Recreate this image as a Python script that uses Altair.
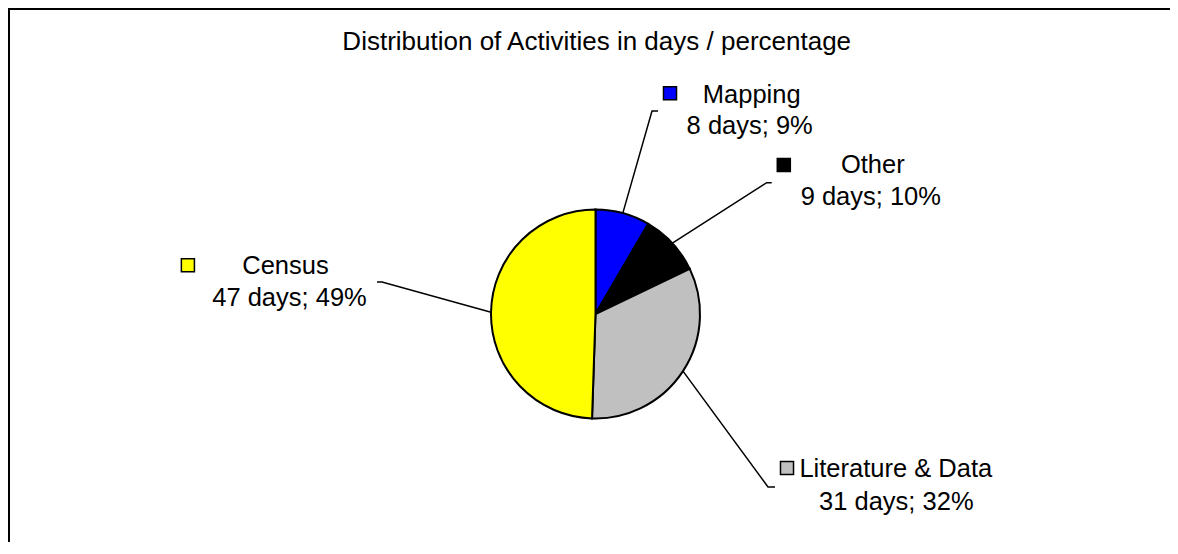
import math
import altair as alt
import pandas as pd

# ---- data ----
categories = ["Mapping", "Other", "Literature & Data", "Census"]
days = [8, 9, 31, 47]
percent_labels = ["9%", "10%", "32%", "49%"]
colors = ["#0000FF", "#000000", "#C0C0C0", "#FFFF00"]
title_text = "Distribution of Activities in days / percentage"

# ---- layout (chart pixel coordinates) ----
W, H = 1162, 534
cx, cy, R = 587.5, 306, 104.5
key_x = [662, 775.8, 779, 179.9]
key_y = [85.2, 157, 460, 257.3]
name_x = [743.7, 864.8, 887.8, 277.5]
name_y = [94.5, 165, 468.7, 265.5]
val_x = [741.7, 862.8, 888.3, 281.5]
val_y = [125.5, 197, 502, 297.5]
elbow_x = [644, 758.7, 760, 374]
elbow_y = [103, 174.7, 479, 274]
stub_x = [650, 763.7, 767, 369]
FONT = "Liberation Sans"

xs = dict(scale=alt.Scale(domain=[0, W], range=[0, W], nice=False, zero=False), axis=None)
ys = dict(scale=alt.Scale(domain=[0, H], range=[0, H], nice=False, zero=False), axis=None)
color_scale = alt.Scale(domain=categories, range=colors)

pie_df = pd.DataFrame({"category": categories, "days": days, "idx": list(range(len(days)))})

pie = alt.Chart(pie_df).mark_arc(radius=R, stroke="black", strokeWidth=2).encode(
    theta=alt.Theta("days:Q", stack=True),
    color=alt.Color("category:N", scale=color_scale, legend=None),
    order=alt.Order("idx:Q"),
    x=alt.value(cx),
    y=alt.value(cy),
)

# leader lines: start on the pie edge at each slice's mid angle
total = sum(days)
rows = []
cum = 0
for i, c in enumerate(categories):
    mid = (cum + days[i] / 2) / total * 2 * math.pi
    cum += days[i]
    ex = cx + R * math.sin(mid)
    ey = cy - R * math.cos(mid)
    rows.append({"category": c, "o": 0, "x": ex, "y": ey})
    rows.append({"category": c, "o": 1, "x": elbow_x[i], "y": elbow_y[i]})
    rows.append({"category": c, "o": 2, "x": stub_x[i], "y": elbow_y[i]})
lead_df = pd.DataFrame(rows)

leaders = alt.Chart(lead_df).mark_line(color="black", strokeWidth=1.5).encode(
    x=alt.X("x:Q", **xs),
    y=alt.Y("y:Q", **ys),
    detail="category:N",
    order="o:Q",
)

key_df = pd.DataFrame({"category": categories, "x": key_x, "y": key_y})
keys = alt.Chart(key_df).mark_square(size=170, opacity=1, stroke="black", strokeWidth=1.5).encode(
    x=alt.X("x:Q", **xs),
    y=alt.Y("y:Q", **ys),
    fill=alt.Fill("category:N", scale=color_scale, legend=None),
)

text_rows = []
for i, c in enumerate(categories):
    text_rows.append({"t": c, "x": name_x[i], "y": name_y[i]})
    text_rows.append({"t": f"{days[i]} days; {percent_labels[i]}", "x": val_x[i], "y": val_y[i]})
text_df = pd.DataFrame(text_rows)

labels = alt.Chart(text_df).mark_text(
    font=FONT, fontSize=25.5, align="center", baseline="alphabetic", color="black"
).encode(x=alt.X("x:Q", **xs), y=alt.Y("y:Q", **ys), text="t:N")

title = alt.Chart(pd.DataFrame({"t": [title_text], "x": [588.7], "y": [42]})).mark_text(
    font=FONT, fontSize=26, align="center", baseline="alphabetic", color="black"
).encode(x=alt.X("x:Q", **xs), y=alt.Y("y:Q", **ys), text="t:N")

dummy = pd.DataFrame({"a": [0]})
frame_top = alt.Chart(dummy).mark_rule(color="black", strokeWidth=2).encode(
    x=alt.value(0), x2=alt.value(W), y=alt.value(1)
)
frame_left = alt.Chart(dummy).mark_rule(color="black", strokeWidth=2).encode(
    x=alt.value(1), y=alt.value(0), y2=alt.value(H)
)

chart = alt.layer(frame_top, frame_left, pie, leaders, keys, labels, title).properties(
    width=W, height=H, autosize=alt.AutoSizeParams(type="none"), padding=0, background="white"
).configure_view(stroke=None)

chart.save("out.html", embed_options={"renderer": "svg", "actions": False})
